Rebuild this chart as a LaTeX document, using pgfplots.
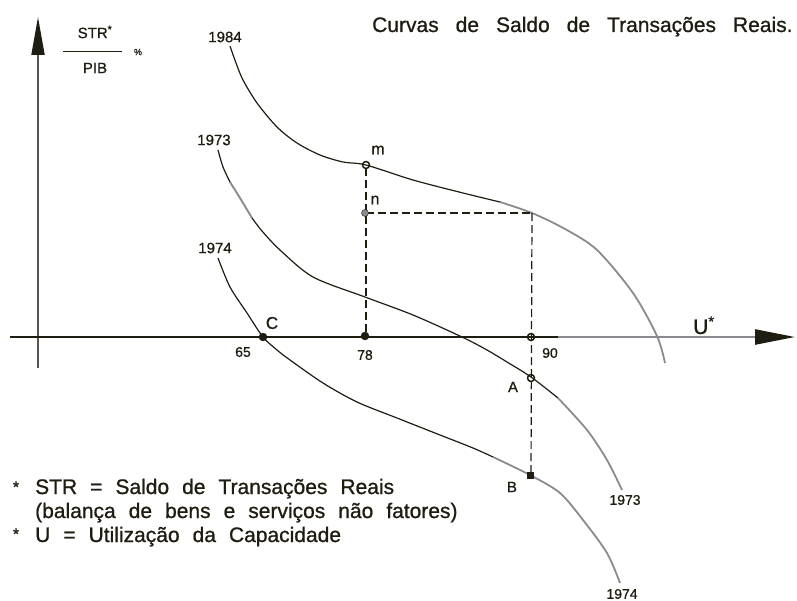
\documentclass[border=0pt]{standalone}
\usepackage{fontspec}
\setmainfont{Liberation Sans}[FakeBold=0.9]
\usepackage{pgfplots}
\pgfplotsset{compat=1.18}
\usetikzlibrary{arrows.meta}
\definecolor{ink}{HTML}{1F1D12}
\definecolor{scan}{HTML}{8A8A90}
\newcommand{\titlefont}{\fontsize{21bp}{24bp}\selectfont\spaceskip=17bp\relax}
\newcommand{\notefont}{\fontsize{21bp}{24bp}\selectfont\spaceskip=13bp\relax}

\begin{document}
\begin{tikzpicture}[font=\fontsize{15bp}{18bp}\selectfont, text=ink]
\begin{axis}[
  width=797bp, height=601bp, scale only axis,
  xmin=0, xmax=797, ymin=0, ymax=601, y dir=reverse,
  hide axis, clip=false,
]
% axes
\addplot[ink!75, line width=1.8bp, -{Triangle[length=38bp,width=13bp,color=ink]}] coordinates {(38,368) (38,17)};
\addplot[ink, line width=1.4bp] coordinates {(10,337) (560,337)};
\addplot[scan, line width=2.4bp, -{Triangle[length=40bp,width=15bp,color=ink]}] coordinates {(558,337) (795,337)};

% 1984
\addplot[ink, line width=1.2bp, smooth] coordinates {
  (230,46) (236,63) (243,80) (257,103) (277,127) (297,143) (320,155)
  (343,162) (366,165) (413,180) (463,193) (500,202)};
\addplot[scan, line width=1.8bp, smooth] coordinates {
  (500,202) (532,213) (565,229) (597,250) (633,293) (657,336) (665,363)};

% 1973
\addplot[ink, line width=1.2bp, smooth] coordinates {(218,150) (223,167) (230,182)};
\addplot[scan, line width=1.9bp, smooth] coordinates {(230,182) (240,198) (252,218)};
\addplot[ink, line width=1.2bp, smooth] coordinates {
  (252,218) (262,231) (280,250) (313,277) (365,297) (413,315) (462,337)
  (487,350) (507,362) (531,377) (558,398)};
\addplot[scan, line width=1.8bp, smooth] coordinates {(558,398) (587,430) (607,460) (622,490)};

% 1974
\addplot[ink, line width=1.2bp, smooth] coordinates {
  (218,258) (230,287) (247,313) (263,337) (277,350) (290,360) (323,383)
  (357,402) (397,418) (440,435) (473,448) (493,457)};
\addplot[scan, line width=1.8bp, smooth] coordinates {
  (493,457) (530,475) (560,493) (583,520) (607,553) (620,583)};

% dashed guides
\addplot[ink, line width=1.2bp, dash pattern=on 8bp off 4bp] coordinates {(366,168) (366,337)};
\addplot[ink, line width=1.2bp, dash pattern=on 8bp off 4bp] coordinates {(366,213) (532,213)};
\addplot[ink, line width=1.2bp, dash pattern=on 8bp off 4bp] coordinates {(532,213) (531,475)};

% y label bar
\addplot[ink, line width=1bp] coordinates {(63,52) (122,52)};

% points
\addplot[only marks, mark=*, mark size=4bp, ink] coordinates {(263,337) (365,336)};
\addplot[only marks, mark=o, mark size=3.5bp, ink, line width=1.5bp, mark options={fill=white}] coordinates {(366,165) (531,337) (531,378)};
\addplot[only marks, mark=*, mark size=3.5bp, draw=ink, fill=scan] coordinates {(365,213)};
\addplot[only marks, mark=square*, mark size=3bp, ink] coordinates {(530,475)};

% labels
\node at (225,37) {1984};
\node at (214,140) {1973};
\node at (215,248) {1974};
\node[font=\fontsize{14bp}{16bp}\selectfont] at (625,500) {1973};
\node[font=\fontsize{14bp}{16bp}\selectfont] at (622,594) {1974};
\node[font=\fontsize{16bp}{18bp}\selectfont] at (378,150) {m};
\node[font=\fontsize{16bp}{18bp}\selectfont] at (375,200) {n};
\node[font=\fontsize{17bp}{18bp}\selectfont] at (272,323) {C};
\node[font=\fontsize{15bp}{18bp}\selectfont] at (513,387) {A};
\node[font=\fontsize{15bp}{18bp}\selectfont] at (512,487) {B};
\node[font=\fontsize{14bp}{16bp}\selectfont] at (243,352) {65};
\node[font=\fontsize{14bp}{16bp}\selectfont] at (365,355) {78};
\node[font=\fontsize{14bp}{16bp}\selectfont] at (550,353) {90};
\node[font=\fontsize{21bp}{24bp}\selectfont, anchor=base west, inner sep=0] at (693,334) {U\textsuperscript{*}};
\node[font=\fontsize{15bp}{18bp}\selectfont] at (95,32) {STR\textsuperscript{*}};
\node[font=\fontsize{15bp}{18bp}\selectfont] at (95,68) {PIB};
\node[font=\fontsize{9bp}{10bp}\selectfont] at (138,52) {\%};

% title
\node[font=\titlefont, anchor=base west, inner sep=0] at (372,32)
  {Curvas de Saldo de Transações Reais.};

% notes
\node[font=\notefont, anchor=base west, inner sep=0] at (35,494) {STR = Saldo de Transações Reais};
\node[font=\notefont, anchor=base west, inner sep=0] at (35,518) {(balança de bens e serviços não fatores)};
\node[font=\notefont, anchor=base west, inner sep=0] at (35,542) {U = Utilização da Capacidade};
\node[font=\fontsize{16bp}{18bp}\selectfont] at (16,487) {*};
\node[font=\fontsize{16bp}{18bp}\selectfont] at (16,534) {*};
\end{axis}
\pgfresetboundingbox
\useasboundingbox (current axis.south west) rectangle (current axis.north east);
\end{tikzpicture}
\end{document}
